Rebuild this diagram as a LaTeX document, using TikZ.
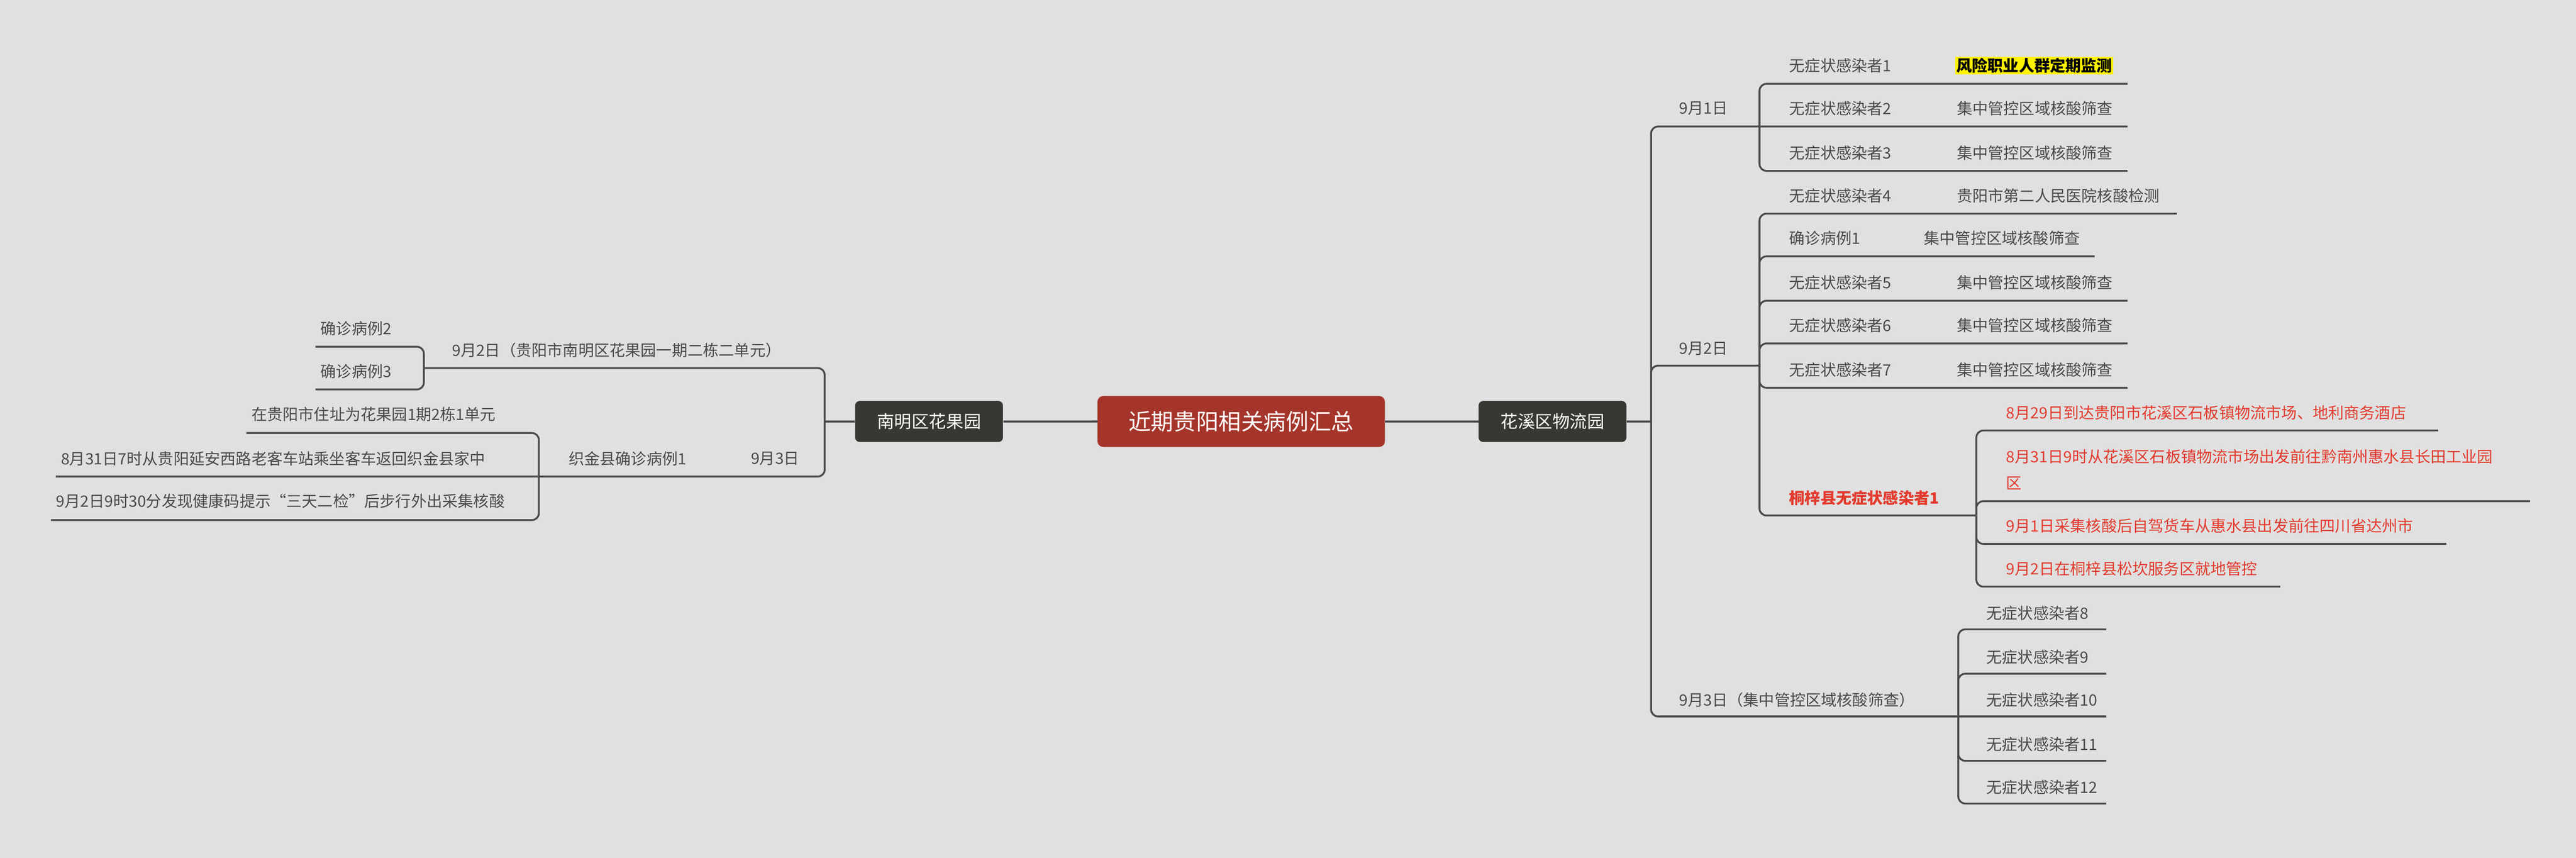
\documentclass[tikz,border=0pt]{standalone}
\usepackage{fontspec}
\setmainfont{Noto Sans CJK SC}
\begin{document}
\begin{tikzpicture}[x=0.05cm,y=-0.05cm,
  ln/.style={draw=lncol,line width=1.6pt,rounded corners=6pt},
  tx/.style={anchor=west,inner sep=0,text=txcol,font=\fontsize{13.5}{16}\selectfont},
  rd/.style={tx,text=redcol},
  box/.style={fill=boxcol,rounded corners=4pt,text=white,minimum width=90*0.05cm,minimum height=25*0.05cm,font=\fontsize{15}{18}\selectfont,inner sep=0}]
\definecolor{bg}{HTML}{E0E0E0}
\definecolor{lncol}{HTML}{4A4A4E}
\definecolor{txcol}{HTML}{4A4A4A}
\definecolor{redcol}{HTML}{E33B2E}
\definecolor{boxcol}{HTML}{383832}
\definecolor{ctr}{HTML}{A5352A}
\fill[bg] (0,0) rectangle (1568,522);
\useasboundingbox (0,0) rectangle (1568,522);
% main nodes
\node[fill=ctr,rounded corners=5pt,text=white,minimum width=175*0.05cm,minimum height=31*0.05cm,inner sep=0,font=\fontsize{19.5}{22}\selectfont] (c) at (755.5,256.5) {近期贵阳相关病例汇总};
\node[box] (hx) at (945,256.5) {花溪区物流园};
\node[box] (nm) at (565.5,256.5) {南明区花果园};
\draw[ln] (c.east) -- (hx.west);
\draw[ln] (c.west) -- (nm.east);
% right tree
\coordinate (rs) at (1005,256.5);
\draw[ln] (hx.east) -- (rs);
\draw[ln] (rs) -- (1005,77) -- (1295,77);
\draw[ln] (rs) -- (1005,222.5) -- (1071,222.5);
\draw[ln] (rs) -- (1005,436) -- (1282,436);
\node[tx] (d1) at (1022,66) {9月1日};
\node[tx] (d2) at (1022,212) {9月2日};
\node[tx] (d3) at (1022,426) {9月3日（集中管控区域核酸筛查）};
% 9/1 leaves
\draw[ln] (1071,77) -- (1071,51) -- (1295,51);
\draw[ln] (1071,77) -- (1071,104) -- (1295,104);
\node[tx] (a1) at (1089,40) {无症状感染者1};
\node[tx,text=black,fill=yellow,inner sep=1pt,font=\fontsize{13.5}{16}\selectfont\bfseries] (a1b) at (1190,40) {风险职业人群定期监测};
\node[tx] (a2) at (1089,66) {无症状感染者2};
\node[tx] (a2b) at (1191,66) {集中管控区域核酸筛查};
\node[tx] (a3) at (1089,93) {无症状感染者3};
\node[tx] (a3b) at (1191,93) {集中管控区域核酸筛查};
% 9/2 leaves
\draw[ln] (1071,222.5) -- (1071,130) -- (1325,130);
\draw[ln] (1071,222.5) -- (1071,156) -- (1275,156);
\draw[ln] (1071,222.5) -- (1071,183) -- (1295,183);
\draw[ln] (1071,222.5) -- (1071,209) -- (1295,209);
\draw[ln] (1071,222.5) -- (1071,236) -- (1295,236);
\draw[ln] (1071,222.5) -- (1071,313.7) -- (1203,313.7);
\node[tx] (a4) at (1089,119) {无症状感染者4};
\node[tx] (a4b) at (1191,119) {贵阳市第二人民医院核酸检测};
\node[tx] (q1) at (1089,145) {确诊病例1};
\node[tx] (q1b) at (1171,145) {集中管控区域核酸筛查};
\node[tx] (a5) at (1089,172) {无症状感染者5};
\node[tx] (a5b) at (1191,172) {集中管控区域核酸筛查};
\node[tx] (a6) at (1089,198) {无症状感染者6};
\node[tx] (a6b) at (1191,198) {集中管控区域核酸筛查};
\node[tx] (a7) at (1089,225) {无症状感染者7};
\node[tx] (a7b) at (1191,225) {集中管控区域核酸筛查};
\node[rd,font=\fontsize{13.5}{16}\selectfont\bfseries] (tz) at (1089,303) {桐梓县无症状感染者1};
% tongzi leaves
\draw[ln] (1203,313.7) -- (1203,262) -- (1484,262);
\draw[ln] (1203,313.7) -- (1203,305) -- (1540,305);
\draw[ln] (1203,313.7) -- (1203,331) -- (1489,331);
\draw[ln] (1203,313.7) -- (1203,357) -- (1388,357);
\node[rd] (r1) at (1221,251) {8月29日到达贵阳市花溪区石板镇物流市场、地利商务酒店};
\node[rd] (r2) at (1221,278) {8月31日9时从花溪区石板镇物流市场出发前往黔南州惠水县长田工业园};
\node[rd] (r2b) at (1221,294) {区};
\node[rd] (r3) at (1221,320) {9月1日采集核酸后自驾货车从惠水县出发前往四川省达州市};
\node[rd] (r4) at (1221,346) {9月2日在桐梓县松坎服务区就地管控};
% 9/3 leaves
\foreach \y/\n in {383/8,410/9,463/11,489/12}{
  \draw[ln] (1192,436) -- (1192,\y) -- (1282,\y);}
\foreach \y/\n in {383/8,410/9,436/10,463/11,489/12}{
  \node[tx] (b\n) at (1209,\y-10) {无症状感染者\n};}
% left tree
\coordinate (ls) at (502,256.5);
\draw[ln] (nm.west) -- (ls);
\draw[ln] (ls) -- (502,224) -- (258,224);
\draw[ln] (ls) -- (502,290) -- (34,290);
\node[tx] (l1) at (275,213) {9月2日（贵阳市南明区花果园一期二栋二单元）};
\draw[ln] (258,224) -- (258,211) -- (192,211);
\draw[ln] (258,224) -- (258,237) -- (192,237);
\node[tx] (q2) at (195,200) {确诊病例2};
\node[tx] (q3) at (195,226) {确诊病例3};
\node[tx] (l2) at (457,279) {9月3日};
\node[tx] (zj) at (346,279) {织金县确诊病例1};
\draw[ln] (328,290) -- (328,263.5) -- (150,263.5);
\draw[ln] (328,290) -- (328,316.5) -- (31,316.5);
\node[tx] (z1) at (153,252) {在贵阳市住址为花果园1期2栋1单元};
\node[tx] (z2) at (37,279) {8月31日7时从贵阳延安西路老客车站乘坐客车返回织金县家中};
\node[tx] (z3) at (34,305) {9月2日9时30分发现健康码提示“三天二检”后步行外出采集核酸};
\end{tikzpicture}
\end{document}
